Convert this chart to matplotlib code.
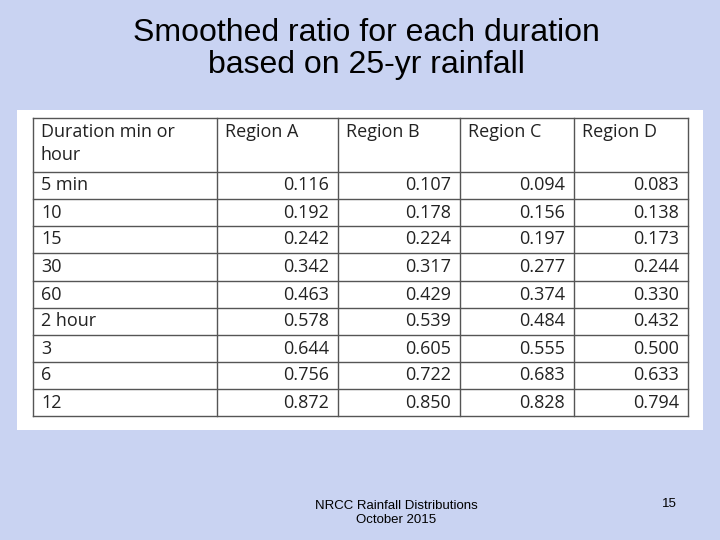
import matplotlib
matplotlib.use("Agg")
import matplotlib.pyplot as plt
from matplotlib.patches import Rectangle

title = "Smoothed ratio for each duration\nbased on 25-yr rainfall"
headers = ["Duration min or\nhour", "Region A", "Region B", "Region C", "Region D"]
durations = ["5 min", "10", "15", "30", "60", "2 hour", "3", "6", "12"]
region_a = [0.116, 0.192, 0.242, 0.342, 0.463, 0.578, 0.644, 0.756, 0.872]
region_b = [0.107, 0.178, 0.224, 0.317, 0.429, 0.539, 0.605, 0.722, 0.850]
region_c = [0.094, 0.156, 0.197, 0.277, 0.374, 0.484, 0.555, 0.683, 0.828]
region_d = [0.083, 0.138, 0.173, 0.244, 0.330, 0.432, 0.500, 0.633, 0.794]
footer = "NRCC Rainfall Distributions\nOctober 2015"
page = "15"

fig = plt.figure(figsize=(7.2, 5.4), dpi=100)
fig.patch.set_facecolor("#c9d3f2")
ax = fig.add_axes([0, 0, 1, 1])
ax.set_xlim(0, 720); ax.set_ylim(540, 0); ax.axis("off")
ax.set_facecolor("#c9d3f2")

ax.text(366, 49, title, ha="center", va="center", fontsize=23,
        family="Liberation Sans", linespacing=1.05)
ax.add_patch(Rectangle((17, 110), 686, 320, facecolor="white", edgecolor="none"))

cols = [33, 217, 338, 460, 574, 688]
rows = [118, 172, 199, 226, 253, 281, 308, 335, 362, 389, 416]
for x in cols:
    ax.plot([x, x], [rows[0], rows[-1]], color="#555555", lw=1)
for y in rows:
    ax.plot([cols[0], cols[-1]], [y, y], color="#555555", lw=1)

fs = 13
fam = "Open Sans"
tc = "#222222"
for i, h in enumerate(headers):
    ax.text(cols[i] + 8, rows[0] + 5, h, ha="left", va="top", fontsize=fs,
            family=fam, linespacing=1.35, color=tc)
series = [region_a, region_b, region_c, region_d]
for r, d in enumerate(durations):
    yc = (rows[r + 1] + rows[r + 2]) / 2
    ax.text(cols[0] + 8, yc, d, ha="left", va="center", fontsize=fs, family=fam, color=tc)
    for c, s in enumerate(series):
        ax.text(cols[c + 2] - 9, yc, f"{s[r]:.3f}", ha="right", va="center",
                fontsize=fs, family=fam, color=tc)

ax.text(396, 513, footer, ha="center", va="center", fontsize=9.5,
        family="Liberation Sans", linespacing=1.3)
ax.text(669, 504, page, ha="center", va="center", fontsize=9.5, family="Liberation Sans")

fig.savefig("out.png", dpi=100, facecolor=fig.get_facecolor())
